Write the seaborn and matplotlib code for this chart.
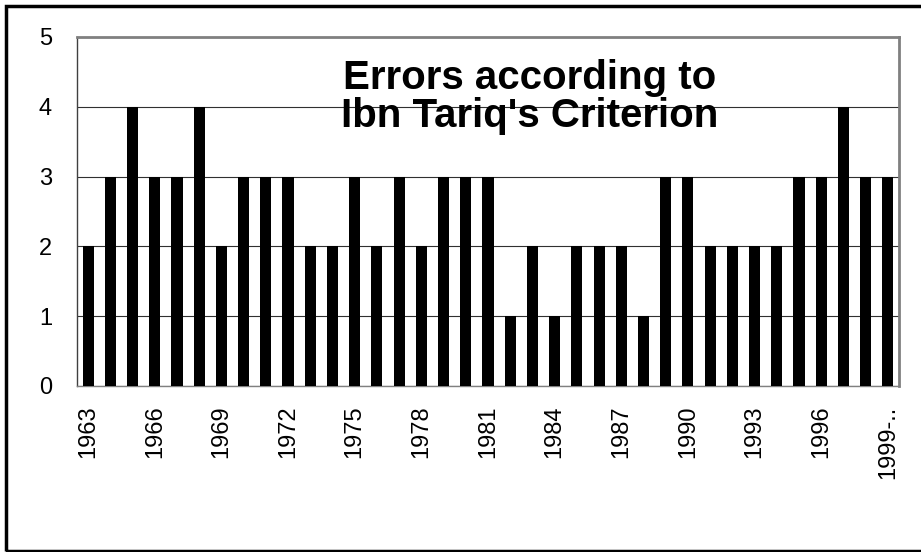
"""Errors according to Ibn Tariq's Criterion - bar chart per year."""
import matplotlib
matplotlib.use("Agg")
import matplotlib.pyplot as plt
from matplotlib.patches import Rectangle
import numpy as np
import pandas as pd
import seaborn as sns

years = [str(y) for y in range(1963, 1999)] + ["1999-.."]
errors = [2, 3, 4, 3, 3, 4, 2, 3, 3, 3, 2, 2, 3, 2, 3, 2, 3, 3, 3,
          1, 2, 1, 2, 2, 2, 1, 3, 3, 2, 2, 2, 2, 3, 3, 4, 3, 3]
title_lines = "Errors according to\nIbn Tariq's Criterion"

df = pd.DataFrame({"year": years, "errors": errors})

sns.set_style("white")
plt.rcParams["font.family"] = ["Liberation Sans", "DejaVu Sans"]
plt.rcParams["text.color"] = "black"

fig = plt.figure(figsize=(9.21, 5.52), dpi=100)
ax = fig.add_axes([0.0836, 0.301, 0.8925, 0.632])

sns.barplot(data=df, x="year", y="errors", color="black", width=0.5,
            saturation=1, ax=ax, zorder=3)
for p in ax.patches:
    p.set_edgecolor("none")

ax.set_ylim(0, 5)
ax.set_xlim(-0.5, len(years) - 0.5)
ax.set_yticks(range(0, 6))
ax.set_xlabel("")
ax.set_ylabel("")

# labels every third year, tick marks between categories
idx = np.arange(0, len(years), 3)
ax.set_xticks(idx)
ax.set_xticklabels([years[i] for i in idx], rotation=90, fontsize=17)
ax.set_xticks(np.arange(-0.5, len(years)), minor=True)
ax.tick_params(axis="x", which="major", length=0, pad=14, labelcolor="black")
ax.tick_params(axis="x", which="minor", length=6, width=0.8, color="#606060")
ax.tick_params(axis="y", length=6, width=0.8, color="#606060", labelsize=17,
               pad=12, labelcolor="black")

ax.grid(axis="y", color="#303030", linewidth=0.8, zorder=0)
ax.set_axisbelow(True)
for side in ["top", "right"]:
    ax.spines[side].set_color("#808080")
    ax.spines[side].set_linewidth(2)
ax.spines["left"].set_color("#404040")
ax.spines["left"].set_linewidth(1)
ax.spines["bottom"].set_color("#808080")
ax.spines["bottom"].set_linewidth(1)

ax.text(0.551, 0.828, title_lines, transform=ax.transAxes, ha="center",
        va="center", fontsize=29, fontweight="bold", linespacing=1.0,
        color="black", zorder=5)

# outer chart border
fig.patches.append(Rectangle((6 / 921, 1 / 552), 1.0, 545 / 552,
                             transform=fig.transFigure, fill=False,
                             edgecolor="black", linewidth=2.5))

fig.savefig("out.png", dpi=100)
